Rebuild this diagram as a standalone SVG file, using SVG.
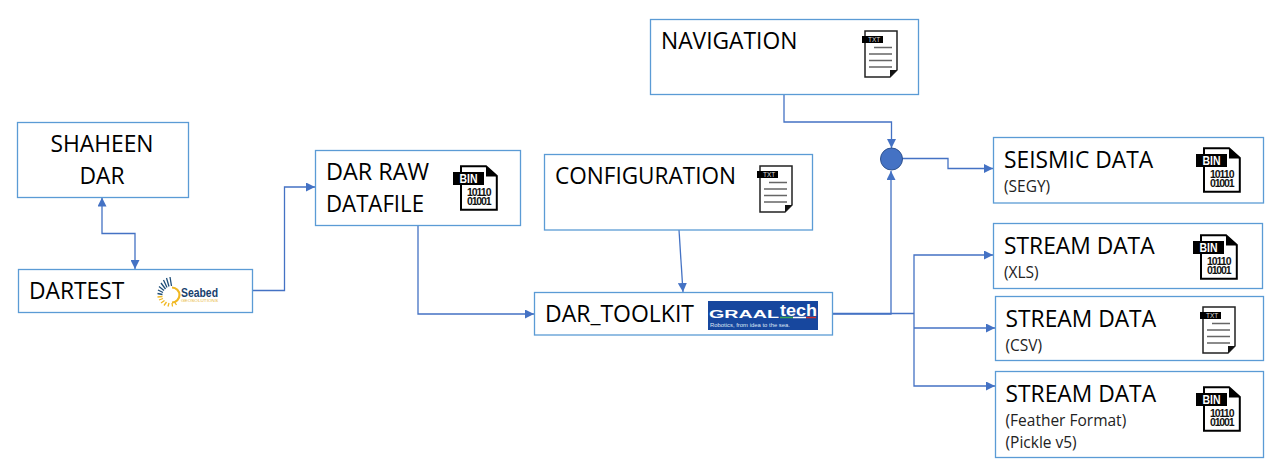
<svg xmlns="http://www.w3.org/2000/svg" width="1282" height="472" viewBox="0 0 1282 472">
<style>
.box{fill:#fff;stroke:#5b9bd5;stroke-width:1.3}
.t{font-family:"Open Sans","Noto Sans","Liberation Sans",sans-serif;font-size:22.800px;fill:#000}
.s{font-family:"Open Sans","Noto Sans","Liberation Sans",sans-serif;font-size:15.500px;fill:#222}
.c{fill:none;stroke:#4472c4;stroke-width:1.3}
.b{font-family:"Liberation Sans",Arial,sans-serif;font-weight:700;fill:#fff;font-size:12.500px}
.n{font-family:"Liberation Sans",Arial,sans-serif;font-weight:700;fill:#111;font-size:10.500px}
</style>
<defs>
<marker id="a" viewBox="0 0 10 10" refX="10" refY="5" markerWidth="9" markerHeight="9" markerUnits="userSpaceOnUse" orient="auto-start-reverse"><path d="M0 0L10 5L0 10z" fill="#4472c4"/></marker>
<symbol id="bin" viewBox="0 0 45 46" width="45" height="46" overflow="visible">
<path d="M8 7V1.200H33L43.800 11V44.800H8V20" fill="#fff" stroke="#000" stroke-width="2"/>
<path d="M33 1V11.500H44z" fill="#000"/>
<rect x="0" y="7" width="31" height="13" fill="#000"/>
<text class="b" x="6.500" y="18" textLength="18" lengthAdjust="spacingAndGlyphs">BIN</text>
<text class="n" x="14" y="31" textLength="24.500" lengthAdjust="spacing">10110</text>
<text class="n" x="14" y="40" textLength="24.500" lengthAdjust="spacing">01001</text>
</symbol>
<symbol id="txt" viewBox="0 0 36 48" width="36" height="48" overflow="visible">
<path d="M3 1H35V40L28 47H3z" fill="#fff" stroke="#222" stroke-width="1.500"/>
<path d="M35 40L28 47V40z" fill="#111"/>
<rect x="0" y="6" width="21" height="7" fill="#000"/>
<text x="6" y="12" font-family="Liberation Sans,Arial,sans-serif" font-size="6.500" fill="#ddd">TXT</text>
<path d="M12 17.500H30M7 24H30M7 30.500H30M7 37H30" stroke="#666" stroke-width="1.500" fill="none"/>
</symbol>
</defs>

<g id="connectors">
<path class="c" d="M102 197.500V233.500H135V269" marker-start="url(#a)" marker-end="url(#a)"/>
<path class="c" d="M252 290.500H284.500V187H315" marker-end="url(#a)"/>
<path class="c" d="M418 225V314H534" marker-end="url(#a)"/>
<path class="c" d="M679 230L683 292" marker-end="url(#a)"/>
<path class="c" d="M784 94V122H891.500V148" marker-end="url(#a)"/>
<path class="c" d="M902 158.500H948V168.500H993" marker-end="url(#a)"/>
<path class="c" d="M832 314H891V171" marker-end="url(#a)"/>
<path class="c" d="M832 313.500H914"/>
<path class="c" d="M993 255H914V386H995" marker-start="url(#a)" marker-end="url(#a)"/>
<path class="c" d="M914 328H995" marker-end="url(#a)"/>
</g>

<g id="shaheen-dar">
<rect class="box" x="17.500" y="122.500" width="171" height="75"/>
<text class="t" x="102" y="152" text-anchor="middle">SHAHEEN</text>
<text class="t" x="102" y="184" text-anchor="middle">DAR</text>
</g>

<g id="dartest">
<rect class="box" x="18.500" y="269.500" width="234" height="43"/>
<text class="t" x="29" y="299">DARTEST</text>
<g fill="none" stroke-width="1.300">
<path stroke="#1f4e79" d="M171.500 286L170 277M169 286.500L166.500 278M167 287.500L163.500 280M165.500 289L161 283M164 290.500L159 286.500M163 292.500L158 290M162.500 294.500L157.500 293.500"/>
<path stroke="#f0b823" d="M162.500 296.500L157.500 297M163 298.500L159 300M164.500 300.500L161 303M166.500 302L164 305.500M169 303L168 306.500M172 303L172.500 306.500M174.500 302L176.500 305"/>
</g>
<path d="M172 287.500A7.500 7.500 0 0 1 172 302.500" fill="none" stroke="#f0b823" stroke-width="2.200"/>
<text x="181" y="297" font-family="Liberation Sans,Arial,sans-serif" font-weight="700" font-size="12.500" fill="#17406d" textLength="37" lengthAdjust="spacingAndGlyphs">Seabed</text>
<text x="181" y="302" font-family="Liberation Sans,Arial,sans-serif" font-size="4" fill="#e8b73a" textLength="37" lengthAdjust="spacingAndGlyphs">GEOSOLUTIONS</text>
</g>

<g id="dar-raw-datafile">
<rect class="box" x="315.500" y="150.500" width="205" height="75"/>
<text class="t" x="326" y="180" textLength="103" lengthAdjust="spacingAndGlyphs">DAR RAW</text>
<text class="t" x="326" y="212" textLength="98" lengthAdjust="spacingAndGlyphs">DATAFILE</text>
<use href="#bin" x="453" y="165"/>
</g>

<g id="configuration">
<rect class="box" x="544.500" y="154.500" width="268" height="75.500"/>
<text class="t" x="555" y="184" textLength="181" lengthAdjust="spacingAndGlyphs">CONFIGURATION</text>
<use href="#txt" x="757" y="165"/>
</g>

<g id="dar-toolkit">
<rect class="box" x="534.500" y="292.500" width="298" height="42.500"/>
<text class="t" x="545" y="322" textLength="149" lengthAdjust="spacingAndGlyphs">DAR_TOOLKIT</text>
<rect x="708" y="301" width="110" height="29" fill="#17479e"/>
<text x="709" y="318" font-family="Liberation Sans,Arial,sans-serif" font-weight="700" font-size="11" fill="#fff" textLength="70" lengthAdjust="spacingAndGlyphs">GRAAL</text>
<text x="780" y="315.500" font-family="Liberation Sans,Arial,sans-serif" font-weight="700" font-size="16" fill="#fff" textLength="37" lengthAdjust="spacingAndGlyphs">tech</text>
<path d="M780 317.500H793" stroke="#3aa655" stroke-width="1.500"/>
<path d="M793 317.500H806" stroke="#fff" stroke-width="1.500"/>
<path d="M806 317.500H816" stroke="#d0312d" stroke-width="1.500"/>
<text x="710" y="326.500" font-family="Liberation Sans,Arial,sans-serif" font-size="5.500" fill="#dfe6f5" textLength="80" lengthAdjust="spacingAndGlyphs">Robotics, from idea to the sea.</text>
</g>

<g id="navigation">
<rect class="box" x="650.500" y="19.500" width="268" height="75"/>
<text class="t" x="661" y="49">NAVIGATION</text>
<use href="#txt" x="862" y="30"/>
</g>

<g id="junction">
<circle cx="891.500" cy="159" r="11" fill="#4472c4" stroke="#2f528f" stroke-width="1"/>
</g>

<g id="seismic-data">
<rect class="box" x="993.500" y="137.500" width="270" height="65.500"/>
<text class="t" x="1004" y="168">SEISMIC DATA</text>
<text class="s" x="1004" y="191.500">(SEGY)</text>
<use href="#bin" x="1196" y="147"/>
</g>

<g id="stream-xls">
<rect class="box" x="993.500" y="223.500" width="269" height="65"/>
<text class="t" x="1004" y="254">STREAM DATA</text>
<text class="s" x="1004" y="277.500">(XLS)</text>
<use href="#bin" x="1193" y="234"/>
</g>

<g id="stream-csv">
<rect class="box" x="995.500" y="296.500" width="268" height="64"/>
<text class="t" x="1005.500" y="327">STREAM DATA</text>
<text class="s" x="1005.500" y="350.500">(CSV)</text>
<use href="#txt" x="1200" y="306"/>
</g>

<g id="stream-feather">
<rect class="box" x="995.500" y="371.500" width="268" height="86"/>
<text class="t" x="1005.500" y="402">STREAM DATA</text>
<text class="s" x="1005.500" y="425.500">(Feather Format)</text>
<text class="s" x="1005.500" y="447.500">(Pickle v5)</text>
<use href="#bin" x="1196" y="386"/>
</g>
</svg>
